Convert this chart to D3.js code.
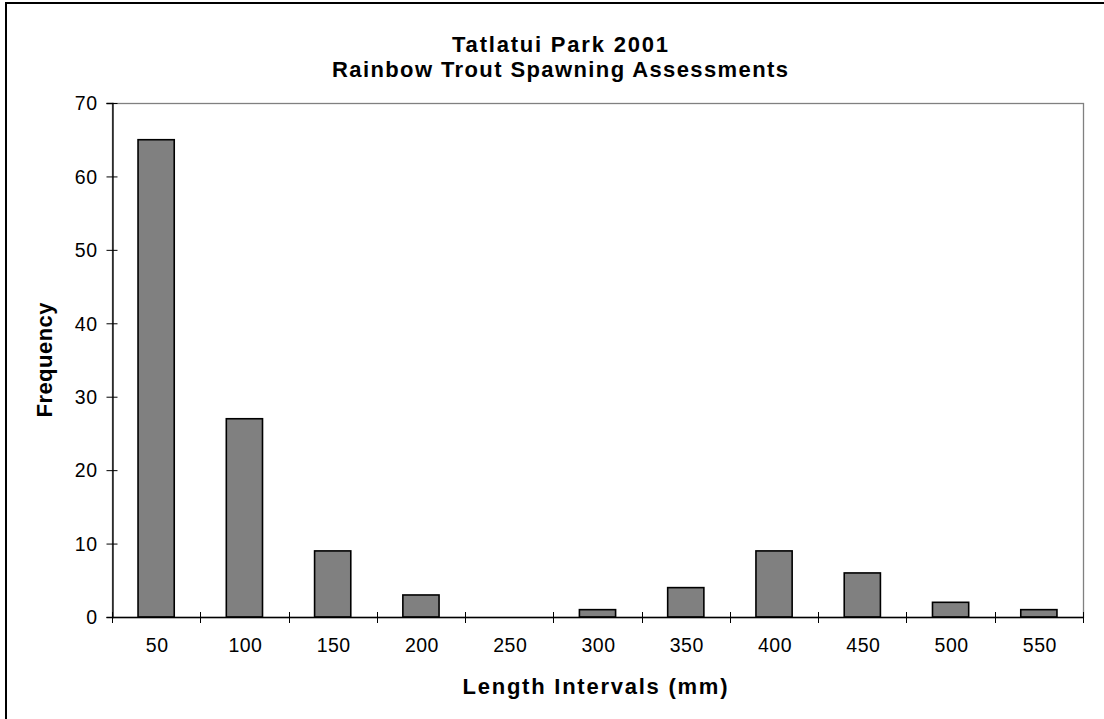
<!DOCTYPE html>
<html>
<head>
<meta charset="utf-8">
<script src="https://cdn.jsdelivr.net/npm/d3@7"></script>
<style>
  html, body { margin: 0; padding: 0; background: #fff; }
  svg { display: block; }
  text { font-family: "Liberation Sans", Arial, sans-serif; fill: #000; }
</style>
</head>
<body>
<svg id="chart" width="1104" height="719"></svg>
<script>
// Length interval classes (mm) and fish counts per class
const categories = ["50", "100", "150", "200", "250", "300", "350", "400", "450", "500", "550"];
const frequency  = [65, 27, 9, 3, 0, 1, 4, 9, 6, 2, 1];
const yTicks     = [0, 10, 20, 30, 40, 50, 60, 70];

const titleLines = ["Tatlatui Park 2001", "Rainbow Trout Spawning Assessments"];
const xTitle = "Length Intervals (mm)";
const yTitle = "Frequency";

const svg = d3.select("#chart");
const W = 1104, H = 719;
const plot = { left: 112, right: 1083, top: 103, bottom: 617 };

// Frame around the whole chart
svg.append("rect")
  .attr("x", 6).attr("y", 3)
  .attr("width", W + 20).attr("height", H + 20)
  .attr("fill", "#fff").attr("stroke", "#000").attr("stroke-width", 2);

const x = d3.scaleBand()
  .domain(categories)
  .range([plot.left, plot.right])
  .paddingInner(0)
  .paddingOuter(0);

const y = d3.scaleLinear()
  .domain([0, 70])
  .range([plot.bottom, plot.top]);

// Plot area border (grey)
svg.append("rect")
  .attr("x", plot.left + 0.5).attr("y", plot.top + 0.5)
  .attr("width", plot.right - plot.left).attr("height", plot.bottom - plot.top)
  .attr("fill", "none").attr("stroke", "#808080").attr("stroke-width", 1.3);

// Bars
const barFrac = 0.41;
svg.append("g").selectAll("rect")
  .data(categories.map((c, i) => ({ c, v: frequency[i] })))
  .join("rect")
  .attr("x", d => x(d.c) + x.bandwidth() * (1 - barFrac) / 2)
  .attr("width", x.bandwidth() * barFrac)
  .attr("y", d => y(d.v))
  .attr("height", d => y(0) - y(d.v))
  .attr("fill", d => d.v > 0 ? "#808080" : "none")
  .attr("stroke", d => d.v > 0 ? "#000" : "none")
  .attr("stroke-width", 1.6);

// Y axis
const yAxis = svg.append("g")
  .attr("transform", `translate(${plot.left + 0.5},0)`)
  .call(d3.axisLeft(y).tickValues(yTicks).tickSize(6).tickPadding(10).tickFormat(d3.format("d")));
yAxis.select(".domain").attr("stroke", "#000").attr("stroke-width", 1.3);
yAxis.selectAll(".tick line").attr("x1", -6).attr("x2", 5).attr("stroke", "#000");
yAxis.selectAll(".tick text")
  .attr("x", -15)
  .style("font-size", "19.5px")
  .style("letter-spacing", "0.5px")
  .attr("dy", "0.35em");

// X axis: tick marks at interval boundaries, labels at interval centres
const xAxisG = svg.append("g");
xAxisG.append("line")
  .attr("x1", plot.left).attr("x2", plot.right + 1)
  .attr("y1", plot.bottom + 0.5).attr("y2", plot.bottom + 0.5)
  .attr("stroke", "#000").attr("stroke-width", 1.3);
const bounds = categories.map(c => x(c)).concat([x(categories[categories.length - 1]) + x.bandwidth()]);
xAxisG.selectAll("line.tk")
  .data(bounds)
  .join("line")
  .attr("class", "tk")
  .attr("x1", d => Math.round(d) + 0.5).attr("x2", d => Math.round(d) + 0.5)
  .attr("y1", plot.bottom - 5).attr("y2", plot.bottom + 6)
  .attr("stroke", "#000");
xAxisG.selectAll("text")
  .data(categories)
  .join("text")
  .attr("x", d => x(d) + x.bandwidth() / 2 + 1)
  .attr("y", 652)
  .attr("text-anchor", "middle")
  .style("font-size", "19.5px")
  .style("letter-spacing", "0.5px")
  .text(d => d);

// Titles
const titleBaselines = [52, 77];
const titleWidths = [216, 456];
titleLines.forEach((t, i) => {
  svg.append("text")
    .attr("x", 560).attr("y", titleBaselines[i])
    .attr("text-anchor", "middle")
    .attr("textLength", titleWidths[i])
    .attr("lengthAdjust", "spacing")
    .style("font-size", "22px").style("font-weight", "bold")
    .text(t);
});

svg.append("text")
  .attr("x", 595).attr("y", 694)
  .attr("text-anchor", "middle")
  .attr("textLength", 265)
  .attr("lengthAdjust", "spacing")
  .style("font-size", "22px").style("font-weight", "bold")
  .text(xTitle);

svg.append("text")
  .attr("transform", `translate(52,${(plot.top + plot.bottom) / 2}) rotate(-90)`)
  .attr("text-anchor", "middle")
  .attr("textLength", 115)
  .attr("lengthAdjust", "spacing")
  .style("font-size", "22px").style("font-weight", "bold")
  .text(yTitle);
</script>
</body>
</html>
